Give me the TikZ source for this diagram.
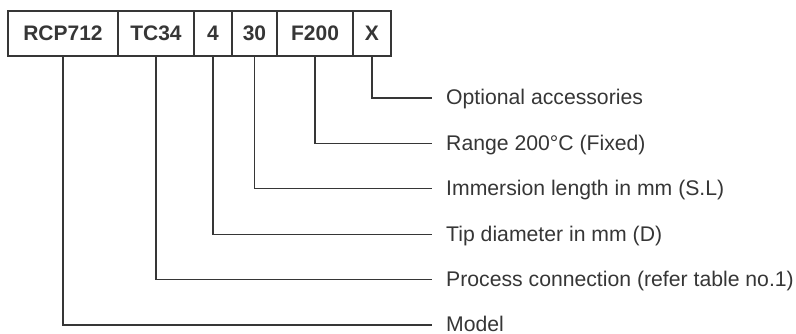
\documentclass[tikz,border=0pt]{standalone}
\usepackage{fontspec}
\setmainfont{Liberation Sans}
\definecolor{ln}{HTML}{363636}
\definecolor{tx}{HTML}{363636}
\begin{document}
\begin{tikzpicture}[x=1pt,y=-1pt,
  cell/.style={draw=ln,line width=1.3pt,minimum height=45pt,inner sep=0pt,
    font=\fontsize{21}{25}\selectfont\bfseries,text=tx},
  lbl/.style={anchor=base west,inner sep=0pt,font=\fontsize{21.2}{25}\selectfont,text=tx},
  conn/.style={draw=ln,line width=1.3pt}]
\useasboundingbox (0,0) rectangle (796,334);
% code boxes
\node[cell,minimum width=110pt] (bM) at (63,33.5) {RCP712};
\node[cell,minimum width=76pt] (bP) at (156,33.5) {TC34};
\node[cell,minimum width=38pt] (bT) at (213,33.5) {4};
\node[cell,minimum width=45pt] (bI) at (254.5,33.5) {30};
\node[cell,minimum width=76pt] (bR) at (315,33.5) {F200};
\node[cell,minimum width=38pt] (bX) at (372,33.5) {X};
% labels
\node[lbl] (lX) at (446,105) {Optional accessories};
\node[lbl] (lR) at (446,150.4) {Range 200°C (Fixed)};
\node[lbl] (lI) at (446,195.8) {Immersion length in mm (S.L)};
\node[lbl] (lT) at (446,241.2) {Tip diameter in mm (D)};
\node[lbl] (lP) at (446,286.6) {Process connection (refer table no.1)};
\node[lbl] (lM) at (446,331.2) {Model};
% line ends
\coordinate (eX) at (432,98);
\coordinate (eR) at (432,143.4);
\coordinate (eI) at (432,188.8);
\coordinate (eT) at (432,234.2);
\coordinate (eP) at (432,279.6);
\coordinate (eM) at (432,325);
% connectors
\draw[conn] (bX.south) |- (eX);
\draw[conn] (bR.south) |- (eR);
\draw[conn] (bI.south) |- (eI);
\draw[conn] (bT.south) |- (eT);
\draw[conn] (bP.south) |- (eP);
\draw[conn] (bM.south) |- (eM);
\end{tikzpicture}
\end{document}
